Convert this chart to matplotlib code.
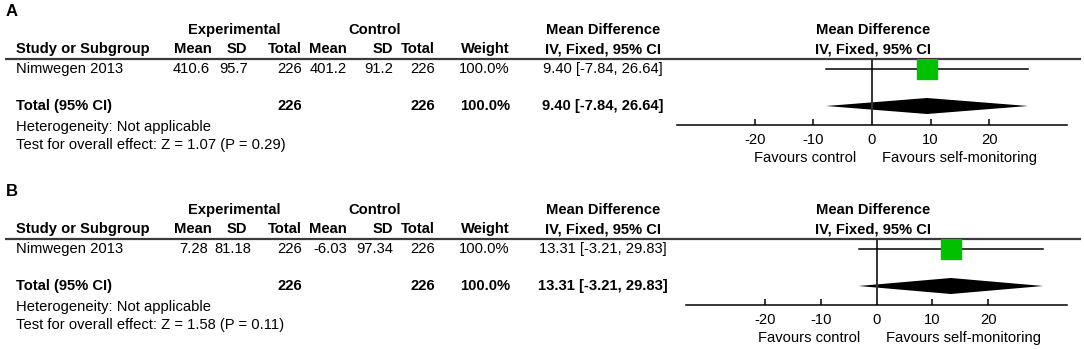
import matplotlib
matplotlib.use("Agg")
import matplotlib.pyplot as plt

plt.rcParams["font.family"] = ["Liberation Sans", "DejaVu Sans"]
plt.rcParams["font.size"] = 10.6
plt.rcParams["axes.unicode_minus"] = False

# one entry per panel (A, B)
panels = ["A", "B"]
study = "Nimwegen 2013"
exp_mean = [410.6, 7.28]
exp_sd = [95.7, 81.18]
exp_total = [226, 226]
ctl_mean = [401.2, -6.03]
ctl_sd = [91.2, 97.34]
ctl_total = [226, 226]
weight = [100.0, 100.0]
md = [9.40, 13.31]
ci_low = [-7.84, -3.21]
ci_high = [26.64, 29.83]
z_value = [1.07, 1.58]
p_value = [0.29, 0.11]
x_ticks = [-20, -10, 0, 10, 20]
x_half_range = [33.3, 34.1]
heterogeneity = "Not applicable"
favours = ["Favours control", "Favours self-monitoring"]

W, H = 1084, 349
fig = plt.figure(figsize=(W / 100, H / 100), dpi=100)

# background axes in pixel units for the table part
bg = fig.add_axes([0, 0, 1, 1])
bg.set_xlim(0, W)
bg.set_ylim(H, 0)
bg.axis("off")

col_head = ["Mean", "SD", "Total", "Mean", "SD", "Total", "Weight"]
col_right = [212, 247, 302, 347, 393, 435, 510]
# value columns sit a little differently in panel B (wider numbers)
val_right = [[210, 248, 302, 347, 393, 435, 510],
             [208, 251, 302, 347, 393, 435, 510]]
md_col_x = 603
plot_head_x = 873

panel_top = [0, 180]
plot_left = [677, 686]
plot_right = 1067

for i, name in enumerate(panels):
    y0 = panel_top[i]
    y_lbl, y_grp, y_head, y_rule = y0 + 12, y0 + 30, y0 + 49, y0 + 59
    y_row, y_tot, y_axis = y0 + 69, y0 + 106, y0 + 125
    y_het, y_test = y0 + 127, y0 + 145

    bg.text(6, y_lbl, name, fontsize=12, fontweight="bold", va="center")
    bg.text(234, y_grp, "Experimental", fontweight="bold", ha="center", va="center")
    bg.text(375, y_grp, "Control", fontweight="bold", ha="center", va="center")
    for x in [md_col_x, plot_head_x]:
        bg.text(x, y_grp, "Mean Difference", fontweight="bold", ha="center", va="center")
        bg.text(x, y_head, "IV, Fixed, 95% CI", fontweight="bold", ha="center", va="center")
    bg.text(16, y_head, "Study or Subgroup", fontweight="bold", va="center")
    for x, h in zip(col_right, col_head):
        bg.text(x, y_head, h, fontweight="bold", ha="right", va="center")
    bg.hlines(y_rule, 5, 1081, color="#3a3a3a", lw=1.6)

    # study row
    vals = [f"{exp_mean[i]:g}", f"{exp_sd[i]:g}", f"{exp_total[i]}",
            f"{ctl_mean[i]:g}", f"{ctl_sd[i]:g}", f"{ctl_total[i]}",
            f"{weight[i]:.1f}%"]
    ci_txt = f"{md[i]:.2f} [{ci_low[i]:.2f}, {ci_high[i]:.2f}]"
    bg.text(16, y_row, study, va="center")
    for x, v in zip(val_right[i], vals):
        bg.text(x, y_row, v, ha="right", va="center")
    bg.text(md_col_x, y_row, ci_txt, ha="center", va="center")

    # total row
    bg.text(16, y_tot, "Total (95% CI)", fontweight="bold", va="center")
    bg.text(col_right[2], y_tot, f"{exp_total[i]}", fontweight="bold", ha="right", va="center")
    bg.text(col_right[5], y_tot, f"{ctl_total[i]}", fontweight="bold", ha="right", va="center")
    bg.text(col_right[6], y_tot, f"{weight[i]:.1f}%", fontweight="bold", ha="right", va="center")
    bg.text(md_col_x, y_tot, ci_txt, fontweight="bold", ha="center", va="center")
    bg.text(16, y_het, f"Heterogeneity: {heterogeneity}", va="center")
    bg.text(16, y_test, f"Test for overall effect: Z = {z_value[i]:.2f} (P = {p_value[i]:.2f})",
            va="center")

    # forest plot
    left = plot_left[i]
    ax = fig.add_axes([left / W, 1 - y_axis / H, (plot_right - left) / W, (y_axis - y_rule) / H])
    ax.patch.set_alpha(0)
    step = y_tot - y_row
    ax.set_xlim(-x_half_range[i], x_half_range[i])
    ax.set_ylim((y_axis - y_row) / step, (y_rule - y_row) / step)
    for s in ["top", "left", "right"]:
        ax.spines[s].set_visible(False)
    ax.spines["bottom"].set_linewidth(1.1)
    ax.set_yticks([])
    ax.set_xticks(x_ticks)
    ax.tick_params(axis="x", direction="in", length=4.5, width=1.1, pad=6, labelsize=10.6)

    ax.axvline(0, color="#333333", lw=1.4)
    ax.plot([ci_low[i], ci_high[i]], [0, 0], color="black", lw=1.1)
    ax.plot(md[i], 0, marker="s", ms=15, color="#00c000", lw=0)
    h = 8 / step
    ax.fill([ci_low[i], md[i], ci_high[i], md[i]], [1, 1 - h, 1, 1 + h], color="black", lw=0)

    ax.annotate(favours[0], xy=(0, 0), xycoords=("data", "axes fraction"),
                xytext=(-16, -33), textcoords="offset pixels", ha="right", va="center")
    ax.annotate(favours[1], xy=(0, 0), xycoords=("data", "axes fraction"),
                xytext=(10, -33), textcoords="offset pixels", ha="left", va="center")

fig.savefig("out.png", dpi=100)
